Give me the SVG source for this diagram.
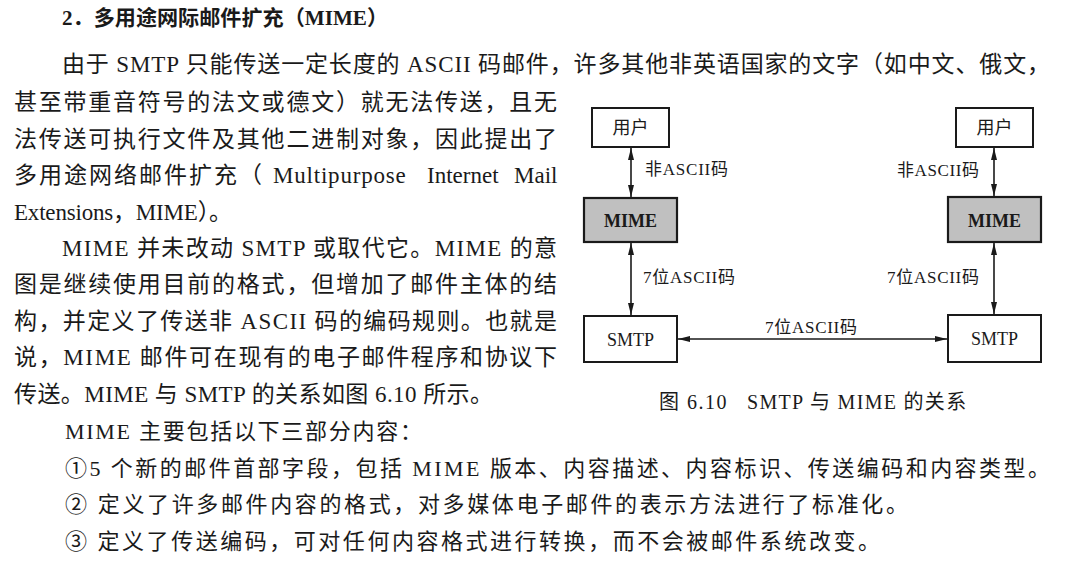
<svg xmlns="http://www.w3.org/2000/svg" width="1074" height="566" viewBox="0 0 1074 566">
<style>
.body{font-family:"Liberation Serif","Noto Sans CJK SC",serif;font-size:23px;fill:#1a1a1a}
.list{font-family:"Liberation Serif","Noto Sans CJK SC",serif;font-size:22px;fill:#1a1a1a}
.title{font-family:"Liberation Serif","Noto Sans CJK SC",serif;font-size:21px;font-weight:bold;fill:#1a1a1a}
.box{fill:#fff;stroke:#1a1a1a;stroke-width:2}
.gray{fill:#c0c0c0;stroke:#1a1a1a;stroke-width:2.2}
.lbl{font-family:"Liberation Serif","Noto Sans CJK SC",serif;font-size:17px;fill:#1a1a1a}
.blbl{font-family:"Liberation Serif","Noto Sans CJK SC",serif;font-size:18px;fill:#1a1a1a;text-anchor:middle}
.cap{font-family:"Liberation Serif","Noto Sans CJK SC",serif;font-size:20px;fill:#1a1a1a}
.conn{stroke:#1a1a1a;stroke-width:1.6;fill:none;marker-start:url(#ah);marker-end:url(#ah)}
</style>
<defs>
<marker id="ah" viewBox="0 0 12 6" refX="12" refY="3" markerWidth="12" markerHeight="6" markerUnits="userSpaceOnUse" orient="auto-start-reverse">
<path d="M0,0 L12,3 L0,6 Z" fill="#1a1a1a"/>
</marker>
</defs>
<rect width="1074" height="566" fill="#fff"/>

<g id="text">
<text class="title" x="62" y="25" textLength="326" lengthAdjust="spacingAndGlyphs">2．多用途网际邮件扩充（MIME）</text>
<text class="body" x="62" y="72" textLength="988" lengthAdjust="spacing">由于 SMTP 只能传送一定长度的 ASCII 码邮件，许多其他非英语国家的文字（如中文、俄文，</text>
<text class="body" x="14" y="110" textLength="543" lengthAdjust="spacing">甚至带重音符号的法文或德文）就无法传送，且无</text>
<text class="body" x="14" y="147" textLength="543" lengthAdjust="spacing">法传送可执行文件及其他二进制对象，因此提出了</text>
<text class="body" y="183"><tspan x="14" letter-spacing="2">多用途网络邮件扩充（</tspan><tspan x="273" letter-spacing="0.8">Multipurpose</tspan><tspan x="427">Internet</tspan><tspan x="514">Mail</tspan></text>
<text class="body" x="14" y="220" textLength="218" lengthAdjust="spacing">Extensions，MIME）。</text>
<text class="body" x="62" y="256" textLength="495" lengthAdjust="spacing">MIME 并未改动 SMTP 或取代它。MIME 的意</text>
<text class="body" x="14" y="292" textLength="543" lengthAdjust="spacing">图是继续使用目前的格式，但增加了邮件主体的结</text>
<text class="body" x="14" y="329" textLength="543" lengthAdjust="spacing">构，并定义了传送非 ASCII 码的编码规则。也就是</text>
<text class="body" x="14" y="365" textLength="543" lengthAdjust="spacing">说，MIME 邮件可在现有的电子邮件程序和协议下</text>
<text class="body" x="14" y="402" textLength="479" lengthAdjust="spacing">传送。MIME 与 SMTP 的关系如图 6.10 所示。</text>
<text class="list" x="65" y="439" textLength="357" lengthAdjust="spacing">MIME 主要包括以下三部分内容：</text>
<text class="list" x="65" y="476" textLength="985" lengthAdjust="spacing">①5 个新的邮件首部字段，包括 MIME 版本、内容描述、内容标识、传送编码和内容类型。</text>
<text class="list" x="65" y="512" textLength="843" lengthAdjust="spacing">② 定义了许多邮件内容的格式，对多媒体电子邮件的表示方法进行了标准化。</text>
<text class="list" x="65" y="549" textLength="815" lengthAdjust="spacing">③ 定义了传送编码，可对任何内容格式进行转换，而不会被邮件系统改变。</text>
</g>

<g id="connectors">
<line class="conn" x1="631" y1="148" x2="631" y2="197"/>
<line class="conn" x1="631" y1="243" x2="631" y2="315"/>
<line class="conn" x1="994" y1="148" x2="994" y2="196"/>
<line class="conn" x1="994" y1="243" x2="994" y2="314"/>
<line class="conn" x1="678" y1="339" x2="947" y2="339"/>
<text class="lbl" x="645" y="175" textLength="83" lengthAdjust="spacing">非ASCII码</text>
<text class="lbl" x="897" y="176" textLength="82" lengthAdjust="spacing">非ASCII码</text>
<text class="lbl" x="643" y="283" textLength="92" lengthAdjust="spacing">7位ASCII码</text>
<text class="lbl" x="887" y="283" textLength="92" lengthAdjust="spacing">7位ASCII码</text>
<text class="lbl" x="765" y="333" textLength="92" lengthAdjust="spacing">7位ASCII码</text>
</g>

<g id="user-left">
<rect class="box" x="592" y="108" width="77" height="39"/>
<text class="blbl" x="630.5" y="134">用户</text>
</g>
<g id="mime-left">
<rect class="gray" x="584" y="198" width="93" height="44"/>
<text class="blbl" x="630.5" y="227" font-weight="bold">MIME</text>
</g>
<g id="smtp-left">
<rect class="box" x="584" y="316" width="93" height="46"/>
<text class="blbl" x="630.5" y="346">SMTP</text>
</g>
<g id="user-right">
<rect class="box" x="956" y="108" width="77" height="39"/>
<text class="blbl" x="994.5" y="134">用户</text>
</g>
<g id="mime-right">
<rect class="gray" x="948" y="197" width="93" height="45"/>
<text class="blbl" x="994.5" y="227" font-weight="bold">MIME</text>
</g>
<g id="smtp-right">
<rect class="box" x="948" y="315" width="93" height="47"/>
<text class="blbl" x="994.5" y="345">SMTP</text>
</g>

<g id="caption">
<text class="cap" y="409"><tspan x="659" letter-spacing="1.5">图 6.10</tspan><tspan x="747" letter-spacing="1.3">SMTP 与 MIME 的关系</tspan></text>
</g>
</svg>
